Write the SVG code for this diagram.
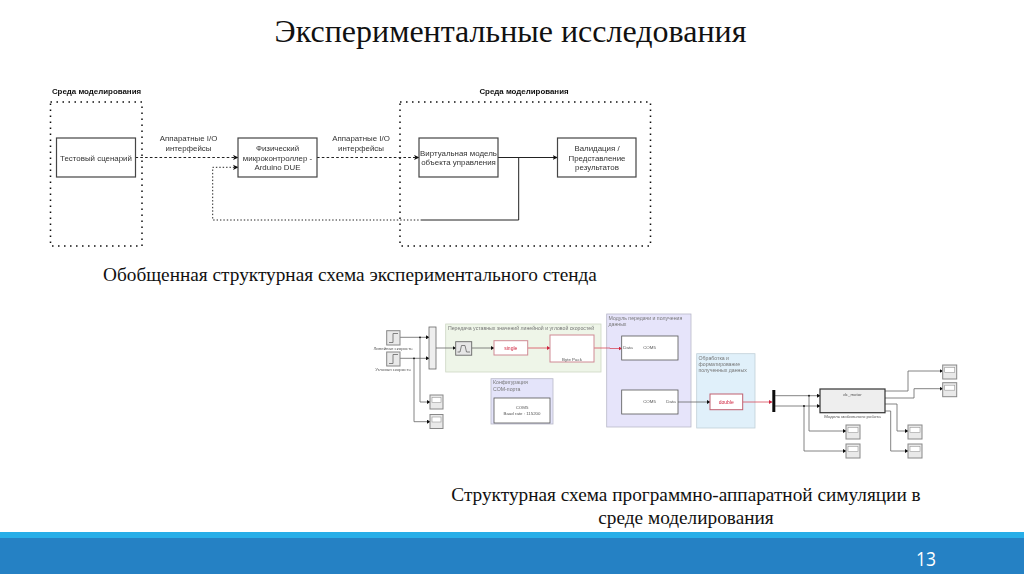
<svg xmlns="http://www.w3.org/2000/svg" width="1024" height="574" viewBox="0 0 1024 574">
<defs>
<marker id="a" markerWidth="6" markerHeight="6" refX="5" refY="3" orient="auto" markerUnits="userSpaceOnUse"><path d="M0,0.4 L5.5,3 L0,5.6 L1.4,3 Z" fill="#111"/></marker>
<marker id="s" markerWidth="4" markerHeight="4" refX="3" refY="2" orient="auto" markerUnits="userSpaceOnUse"><path d="M0,0 L3.4,2 L0,4 Z" fill="#111"/></marker>
<marker id="r" markerWidth="4" markerHeight="4" refX="3" refY="2" orient="auto" markerUnits="userSpaceOnUse"><path d="M0,0 L3.4,2 L0,4 Z" fill="#d0213c"/></marker>
<filter id="b1" x="-2%" y="-2%" width="104%" height="104%"><feGaussianBlur stdDeviation="0.4"/></filter>
<filter id="b2" x="-2%" y="-2%" width="104%" height="104%"><feGaussianBlur stdDeviation="0.5"/></filter>
</defs>
<style>
text{font-family:"Liberation Sans",Arial,sans-serif;text-anchor:middle;fill:#333}
.h{font-family:"Liberation Serif","Times New Roman",serif;fill:#111}
.n{fill:#fff;stroke:#444;stroke-width:1.2}
.env{fill:none;stroke:#111;stroke-width:1.5;stroke-dasharray:1.5 4.5}
.t{font-size:7.9px}
.tb{font-size:7.9px;font-weight:bold;fill:#111}
.c{fill:none;stroke:#222;stroke-width:1}
.d{stroke-dasharray:2.6 2.2}
.o{stroke-dasharray:1.4 2}
.m{fill:none;stroke:#666;stroke-width:.8}
.mr{fill:none;stroke:#d84a5c;stroke-width:.8}
.sc{fill:#e9e9e9;stroke:#888;stroke-width:1}
.si{fill:#fff;stroke:#999;stroke-width:.6}
.b{fill:#fff;stroke:#555;stroke-width:.8}
.x{font-size:4.4px;fill:#555}
.y{font-size:5.2px;fill:#777;text-anchor:start}
</style>
<rect width="1024" height="574" fill="#fff"/>
<text class="h" x="510.5" y="42" font-size="32">Экспериментальные исследования</text>

<g id="top-diagram" filter="url(#b1)">
<g id="env-left"><rect class="env" x="50.5" y="102" width="91.5" height="144"/><text class="tb" x="96.5" y="94">Среда моделирования</text></g>
<g id="env-right"><rect class="env" x="400" y="102" width="250.5" height="144"/><text class="tb" x="524" y="94">Среда моделирования</text></g>
<g id="connectors">
<path class="c d" d="M135.5 157.5H238" marker-end="url(#a)"/>
<path class="c d" d="M317 157.5H419" marker-end="url(#a)"/>
<path class="c" d="M498 157.5H557.5" marker-end="url(#a)"/>
<path class="c" d="M518.7 157.5V220H422"/>
<path class="c o" d="M422 220H212.7V167.3H238" marker-end="url(#a)"/>
</g>
<g id="test"><rect class="n" x="56.5" y="138" width="79" height="39"/><text class="t" x="96" y="160.5">Тестовый сценарий</text></g>
<g id="mcu"><rect class="n" x="238" y="138" width="79" height="39"/><text class="t"><tspan x="277.5" y="151">Физический</tspan><tspan x="277.5" y="160.5">микроконтроллер -</tspan><tspan x="277.5" y="170">Arduino DUE</tspan></text></g>
<g id="virtual"><rect class="n" x="419" y="138" width="79" height="39"/><text class="t"><tspan x="458.5" y="155.5">Виртуальная модель</tspan><tspan x="458.5" y="165">объекта управления</tspan></text></g>
<g id="validation"><rect class="n" x="557.5" y="138" width="78.5" height="39"/><text class="t"><tspan x="597" y="151">Валидация /</tspan><tspan x="597" y="160.5">Представление</tspan><tspan x="597" y="170">результатов</tspan></text></g>
<g id="io-left"><text class="t"><tspan x="188.5" y="141">Аппаратные I/O</tspan><tspan x="188.5" y="151">интерфейсы</tspan></text></g>
<g id="io-right"><text class="t"><tspan x="361" y="141">Аппаратные I/O</tspan><tspan x="361" y="151">интерфейсы</tspan></text></g>
</g>

<text class="h" x="350" y="281" font-size="19.3">Обобщенная структурная схема экспериментального стенда</text>

<g id="sim-diagram" filter="url(#b2)">
<rect x="445.7" y="324" width="155.3" height="48" fill="#eef5e8" stroke="#cdd6c4" stroke-width=".8"/>
<rect x="491" y="378.7" width="62" height="45.3" fill="#e4e4fa" stroke="#b8b8c8" stroke-width=".8"/>
<rect x="606.7" y="314" width="84.3" height="113" fill="#e6e4fa" stroke="#b8b8c8" stroke-width=".8"/>
<rect x="696.7" y="353.7" width="58.3" height="74.3" fill="#e0f0fa" stroke="#c0cfd8" stroke-width=".8"/>
<text class="y" x="448" y="330">Передача уставных значений линейной и угловой скоростей</text>
<text class="y"><tspan x="493" y="384">Конфигурация</tspan><tspan x="493" y="390.5">COM-порта</tspan></text>
<text class="y"><tspan x="608.5" y="319.5">Модуль передачи и получения</tspan><tspan x="608.5" y="326">данных</tspan></text>
<text class="y"><tspan x="698.5" y="359.5">Обработка и</tspan><tspan x="698.5" y="365.8">форматирование</tspan><tspan x="698.5" y="372">полученных данных</tspan></text>
<g id="sim-connectors">
<path class="m" d="M400 337.3H429" marker-end="url(#s)"/>
<path class="m" d="M400 358.3H429" marker-end="url(#s)"/>
<path class="m" d="M420 337.3V402H430" marker-end="url(#s)"/>
<path class="m" d="M414 358.3V421.7H430" marker-end="url(#s)"/>
<path class="m" d="M436 348H455.7" marker-end="url(#s)"/>
<path class="m" d="M471.7 348H494" marker-end="url(#s)"/>
<path class="mr" d="M527.7 348H550" marker-end="url(#r)"/>
<path class="mr" d="M594 348H610V348.5H621.7" marker-end="url(#r)"/>
<path class="m" d="M678 402H710" marker-end="url(#s)"/>
<path class="mr" d="M742.7 402H772" marker-end="url(#r)"/>
<path class="m" d="M775 395.7H820" marker-end="url(#s)"/>
<path class="m" d="M775 406H820" marker-end="url(#s)"/>
<path class="m" d="M809 395.7V431H846" marker-end="url(#s)"/>
<path class="m" d="M804 406V451H846" marker-end="url(#s)"/>
<path class="m" d="M885 391H908V371H942.7" marker-end="url(#s)"/>
<path class="m" d="M885 398H914V388.7H942.7" marker-end="url(#s)"/>
<path class="m" d="M885 404H897V431H908" marker-end="url(#s)"/>
<path class="m" d="M885 411H890.7V451H908" marker-end="url(#s)"/>
<g fill="#111"><circle cx="420" cy="337.3" r=".9"/><circle cx="414" cy="358.3" r=".9"/><circle cx="809" cy="395.7" r=".9"/><circle cx="804" cy="406" r=".9"/></g>
</g>
<g id="step1"><rect class="sc" x="386.7" y="330.7" width="13.3" height="14.3"/><path class="m" d="M389 342.5H393V333.5H398"/><text class="x" x="393" y="349.5">Линейная скорость</text></g>
<g id="step2"><rect class="sc" x="386.7" y="352" width="13.3" height="14"/><path class="m" d="M389 363.5H393V354.5H398"/><text class="x" x="393" y="371">Угловая скорость</text></g>
<g id="mux"><rect x="429" y="327" width="7" height="42" fill="#eee" stroke="#666" stroke-width=".8"/></g>
<g id="rate"><rect x="455.7" y="341.7" width="16" height="13.5" fill="#e6e6e6" stroke="#666" stroke-width=".9"/><path class="m" d="M457.5 352H460L461.5 345.5H465L466.5 352H470"/></g>
<g id="single"><rect x="494" y="340.7" width="33.7" height="14.3" fill="#fff" stroke="#d08a94" stroke-width="1"/><text x="510.8" y="350" font-size="5" style="fill:#d0213c">single</text></g>
<g id="bytepack"><rect x="550" y="335" width="44" height="27" fill="#fff" stroke="#d08a94" stroke-width="1"/><text class="x" x="572" y="360.5">Byte Pack</text></g>
<g id="com-config"><rect class="b" x="494" y="398" width="56" height="25"/><text class="x"><tspan x="522" y="409">COM5</tspan><tspan x="522" y="415">Baud rate : 115200</tspan></text></g>
<g id="com-tx"><rect class="b" x="621.7" y="336" width="56.3" height="24"/><text class="x"><tspan x="628" y="349">Data</tspan><tspan x="649.5" y="349">COM5</tspan></text></g>
<g id="com-rx"><rect class="b" x="621.7" y="390" width="56.3" height="24"/><text class="x"><tspan x="649.5" y="403">COM5</tspan><tspan x="671" y="403">Data</tspan></text></g>
<g id="double"><rect x="710" y="394" width="32.7" height="15.7" fill="#fff" stroke="#c06070" stroke-width="1"/><text x="726.3" y="403.5" font-size="5" style="fill:#d0213c">double</text></g>
<g id="demux"><rect x="772.3" y="390" width="3" height="22" fill="#111"/></g>
<g id="model"><rect x="820" y="389" width="65" height="23.7" fill="#eeeeee" stroke="#333" stroke-width="1.2"/><text class="x" x="852.5" y="395.5">dc_motor</text><text class="x" x="852.5" y="418">Модель мобильного робота</text></g>
<g id="scopes">
<rect class="sc" x="430" y="395" width="13" height="14"/><rect class="si" x="432" y="397.5" width="9" height="5"/>
<rect class="sc" x="430" y="414.5" width="13" height="14"/><rect class="si" x="432" y="417" width="9" height="5"/>
<rect class="sc" x="846" y="425" width="14" height="14"/><rect class="si" x="848" y="427.5" width="10" height="5"/>
<rect class="sc" x="846" y="444" width="14" height="14"/><rect class="si" x="848" y="446.5" width="10" height="5"/>
<rect class="sc" x="908" y="425" width="14" height="14"/><rect class="si" x="910" y="427.5" width="10" height="5"/>
<rect class="sc" x="908" y="444" width="14" height="14"/><rect class="si" x="910" y="446.5" width="10" height="5"/>
<rect class="sc" x="942.7" y="365" width="14" height="14"/><rect class="si" x="944.7" y="367.5" width="10" height="5"/>
<rect class="sc" x="942.7" y="382.7" width="14" height="14"/><rect class="si" x="944.7" y="385.2" width="10" height="5"/>
</g>
</g>

<text class="h" font-size="19.3"><tspan x="686" y="501">Структурная схема программно-аппаратной симуляции в</tspan><tspan x="686" y="524">среде моделирования</tspan></text>

<g id="footer">
<rect y="532" width="1024" height="42" fill="#2581c4"/>
<rect y="532" width="1024" height="6" fill="#27aee8"/>
<text x="926" y="566" font-size="20" textLength="20" lengthAdjust="spacingAndGlyphs" style="font-family:'Open Sans',sans-serif;fill:#fff">13</text>
</g>
</svg>
